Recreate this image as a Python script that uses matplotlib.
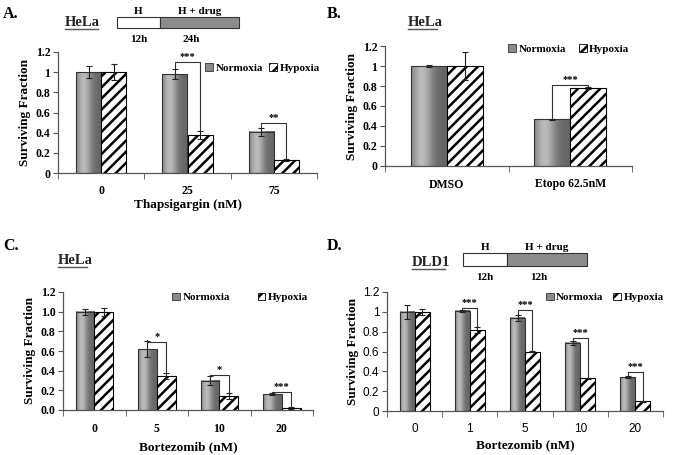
import numpy as np
import matplotlib
matplotlib.use("Agg")
import matplotlib.pyplot as plt
from matplotlib.patches import Patch, Rectangle
from matplotlib.lines import Line2D

# ---------------- data ----------------
a_cats = ["0", "25", "75"]
a_norm = [1.00, 0.98, 0.41]
a_norm_err = [0.06, 0.05, 0.04]
a_hyp = [1.00, 0.38, 0.13]
a_hyp_err = [0.08, 0.04, 0.01]
a_sig_idx = [1, 2]
a_sig_lab = ["***", "**"]
a_sig_top = [1.10, 0.50]

b_cats = ["DMSO", "Etopo 62.5nM"]
b_norm = [1.00, 0.47]
b_norm_err = [0.01, 0.005]
b_hyp = [1.00, 0.78]
b_hyp_err = [0.14, 0.01]
b_sig_idx = [1]
b_sig_lab = ["***"]
b_sig_top = [0.81]

c_cats = ["0", "5", "10", "20"]
c_norm = [1.00, 0.62, 0.30, 0.16]
c_norm_err = [0.03, 0.08, 0.05, 0.01]
c_hyp = [1.00, 0.35, 0.14, 0.02]
c_hyp_err = [0.04, 0.03, 0.03, 0.01]
c_sig_idx = [1, 2, 3]
c_sig_lab = ["*", "*", "***"]
c_sig_top = [0.69, 0.355, 0.18]

d_cats = ["0", "1", "5", "10", "20"]
d_norm = [1.00, 1.01, 0.94, 0.69, 0.34]
d_norm_err = [0.07, 0.01, 0.03, 0.02, 0.01]
d_hyp = [1.00, 0.82, 0.60, 0.33, 0.10]
d_hyp_err = [0.03, 0.03, 0.005, 0.005, 0.005]
d_sig_idx = [1, 2, 3, 4]
d_sig_lab = ["***", "***", "***", "***"]
d_sig_top = [1.04, 1.015, 0.74, 0.39]

# ---------------- style ----------------
W, H = 673, 455
fig = plt.figure(figsize=(W / 100, H / 100), dpi=100)
plt.rcParams["hatch.linewidth"] = 1.8
SERIF = "Liberation Serif"
SANS = "Liberation Sans"

def fx(px):
    return px / W

def fy(py):
    return 1 - py / H

def make_ax(l, r, t, b):
    return fig.add_axes([fx(l), fy(b), (r - l) / W, (b - t) / H])

grad_t = np.linspace(0, 1, 64)
grad = 0.40 + 0.33 * np.exp(-((grad_t - 0.30) / 0.30) ** 2)
grad = grad[None, :]

def panel(ax, cats, norm, nerr, hyp, herr, width, sig_idx, sig_lab, sig_top,
          yfmt, tick_font, tick_weight, tick_fs=8.5):
    n = len(cats)
    x = np.arange(n)
    for i in range(n):
        x0 = x[i] - width
        ax.imshow(grad, extent=[x0, x[i], 0, norm[i]], aspect="auto", cmap="gray",
                  vmin=0, vmax=1, zorder=2, interpolation="bilinear")
    ax.bar(x - width / 2, norm, width, facecolor="none", edgecolor="#333333",
           linewidth=0.8, zorder=3)
    ax.bar(x + width / 2, hyp, width, facecolor="white", edgecolor="black",
           hatch="///", linewidth=0.8, zorder=3)
    ax.errorbar(x - width / 2, norm, yerr=nerr, fmt="none", ecolor="#222222",
                elinewidth=0.8, capsize=2.5, capthick=0.8, zorder=4)
    ax.errorbar(x + width / 2, hyp, yerr=herr, fmt="none", ecolor="#222222",
                elinewidth=0.8, capsize=2.5, capthick=0.8, zorder=4)
    for k, lab, top in zip(sig_idx, sig_lab, sig_top):
        xl = x[k] - width / 2
        xr = x[k] + width / 2
        yl = norm[k] + nerr[k] + 0.01
        yr = hyp[k] + herr[k] + 0.01
        ax.plot([xl, xl, xr, xr], [yl, top, top, yr], color="#333333", lw=0.8,
                zorder=5, clip_on=False)
        ax.text((xl + xr) / 2, top + 0.01, lab, ha="center", va="bottom",
                fontsize=7.5, fontweight="bold", family=SERIF, zorder=6)
    ax.set_xlim(-0.5, n - 0.5)
    ax.set_ylim(0, 1.2)
    ax.set_yticks(np.arange(0, 1.21, 0.2))
    ax.set_yticklabels([yfmt(v) for v in np.arange(0, 1.21, 0.2)],
                       fontsize=tick_fs, family=tick_font, fontweight=tick_weight)
    ax.set_xticks(x)
    ax.set_xticklabels(cats, fontsize=tick_fs, family=tick_font, fontweight=tick_weight)
    ax.set_xticks(np.arange(-0.5, n, 1.0), minor=True)
    ax.tick_params(axis="x", which="major", length=0, pad=9)
    ax.tick_params(axis="x", which="minor", length=4, direction="out", color="#555555")
    ax.tick_params(axis="y", length=3.5, direction="out", color="#555555", pad=2)
    for s in ["top", "right"]:
        ax.spines[s].set_visible(False)
    for s in ["left", "bottom"]:
        ax.spines[s].set_color("#555555")
        ax.spines[s].set_linewidth(0.9)
    ax.set_ylabel("Surviving Fraction", fontsize=9.5, fontweight="bold",
                  family=SERIF, labelpad=3)

def legend(ax, anchor, colsp):
    h = [Patch(facecolor="#8a8a8a", edgecolor="#333333", lw=0.6),
         Patch(facecolor="white", edgecolor="black", hatch="///", lw=0.6)]
    ax.legend(h, ["Normoxia", "Hypoxia"], loc="upper right", bbox_to_anchor=anchor,
              ncol=2, frameon=False, handlelength=0.7, handleheight=0.7,
              handletextpad=0.2, columnspacing=colsp, borderaxespad=0.3,
              prop={"family": SERIF, "weight": "bold", "size": 8})

def fmt_g(v):
    return "%g" % round(v, 1)

def fmt_1(v):
    return "%.1f" % v

# ---------------- panels ----------------
axA = make_ax(58, 317, 52, 173)
panel(axA, a_cats, a_norm, a_norm_err, a_hyp, a_hyp_err, 0.29,
      a_sig_idx, a_sig_lab, a_sig_top, fmt_g, SERIF, "bold")
axA.set_xlabel("Thapsigargin (nM)", fontsize=9.5, fontweight="bold", family=SERIF, labelpad=1)
legend(axA, (1.04, 0.97), 0.6)

axB = make_ax(385, 632, 46, 166)
panel(axB, b_cats, b_norm, b_norm_err, b_hyp, b_hyp_err, 0.29,
      b_sig_idx, b_sig_lab, b_sig_top, fmt_g, SERIF, "bold")
legend(axB, (1.02, 1.08), 1.2)

axC = make_ax(63, 313, 292, 410)
panel(axC, c_cats, c_norm, c_norm_err, c_hyp, c_hyp_err, 0.3,
      c_sig_idx, c_sig_lab, c_sig_top, fmt_1, SERIF, "bold")
axC.set_xlabel("Bortezomib (nM)", fontsize=9.5, fontweight="bold", family=SERIF, labelpad=5)
legend(axC, (1.01, 1.06), 2.5)

axD = make_ax(387, 663, 292, 411)
panel(axD, d_cats, d_norm, d_norm_err, d_hyp, d_hyp_err, 0.27,
      d_sig_idx, d_sig_lab, d_sig_top, fmt_g, SANS, "normal")
axD.set_xlabel("Bortezomib (nM)", fontsize=9.5, fontweight="bold", family=SERIF, labelpad=3)
legend(axD, (1.03, 1.06), 0.9)

# ---------------- panel letters & cell lines ----------------
def label(px, py, s, size):
    fig.text(fx(px), fy(py), s, fontsize=size, fontweight="bold", family=SERIF,
             ha="left", va="center")

label(3, 14, "A.", 11.5)
label(327, 14, "B.", 11.5)
label(3, 246, "C.", 11.5)
label(327, 246, "D.", 11.5)

def cell(px, py, s, w):
    fig.text(fx(px), fy(py), s, fontsize=10.5, fontweight="bold", family=SERIF,
             ha="left", va="center", color="#222222")
    fig.add_artist(Line2D([fx(px), fx(px + w)], [fy(py + 7), fy(py + 7)],
                          color="#555555", lw=1.0))

cell(65, 22, "HeLa", 33)
cell(408, 22, "HeLa", 29)
cell(58, 260, "HeLa", 29)
cell(412, 262, "DLD1", 33)

def timeline(x0, xm, x1, y0, y1, t2):
    fig.add_artist(Rectangle((fx(x0), fy(y1)), (xm - x0) / W, (y1 - y0) / H,
                             facecolor="white", edgecolor="#333333", lw=0.8,
                             transform=fig.transFigure))
    fig.add_artist(Rectangle((fx(xm), fy(y1)), (x1 - xm) / W, (y1 - y0) / H,
                             facecolor="#8c8c8c", edgecolor="#333333", lw=0.8,
                             transform=fig.transFigure))
    kw = dict(fontsize=8, fontweight="bold", family=SERIF, ha="center", va="center")
    fig.text(fx((x0 + xm) / 2), fy(y0 - 5), "H", **kw)
    fig.text(fx((xm + x1) / 2), fy(y0 - 5), "H + drug", **kw)
    fig.text(fx((x0 + xm) / 2), fy(y1 + 11), "12h", **kw)
    fig.text(fx((xm + x1) / 2 - 8), fy(y1 + 11), t2, **kw)

timeline(117, 160, 239, 17, 28, "24h")
timeline(463, 507, 587, 253, 266, "12h")

fig.savefig("out.png", dpi=100)
